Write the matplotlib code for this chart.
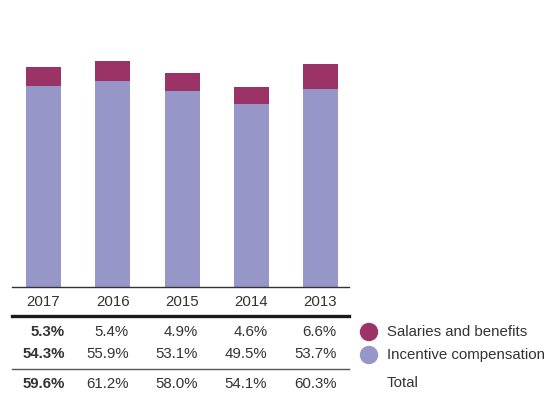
import matplotlib
matplotlib.use("Agg")
import matplotlib.pyplot as plt
from matplotlib.lines import Line2D
from matplotlib.patches import Ellipse
import matplotlib.transforms as mtransforms

years = ["2017", "2016", "2015", "2014", "2013"]
salaries = [5.3, 5.4, 4.9, 4.6, 6.6]
incentive = [54.3, 55.9, 53.1, 49.5, 53.7]
totals = [59.6, 61.2, 58.0, 54.1, 60.3]
legend_labels = ["Salaries and benefits", "Incentive compensation", "Total"]

C_SAL = "#9C3366"
C_INC = "#9696C8"
TXT = "#333333"

plt.rcParams['font.family'] = ['Liberation Sans', 'DejaVu Sans']

W, H = 548, 393
fig = plt.figure(figsize=(W / 100, H / 100), dpi=100)

def fx(px):
    return px / W

def fy(py):
    return 1 - py / H

ax = fig.add_axes([fx(12), fy(287), fx(349) - fx(12), fy(0) - fy(287)])
x = list(range(len(years)))
ax.bar(x, incentive, width=0.505, color=C_INC, zorder=2)
ax.bar(x, salaries, bottom=incentive, width=0.505, color=C_SAL, zorder=2)
ax.set_xlim(-0.455, 4.41)
ax.set_ylim(0, 77.7)
for s in ["top", "right", "left"]:
    ax.spines[s].set_visible(False)
ax.spines["bottom"].set_color("#333333")
ax.spines["bottom"].set_linewidth(1.0)
ax.set_xticks([])
ax.set_yticks([])

# table lines
fig.add_artist(Line2D([fx(12), fx(349)], [fy(316), fy(316)], color="#1a1a1a", lw=2.4))
fig.add_artist(Line2D([fx(12), fx(349)], [fy(369), fy(369)], color="#555555", lw=1.0))

trans = mtransforms.blended_transform_factory(ax.transData, fig.transFigure)
fs = 10.8
for i, yr in enumerate(years):
    off = 0.24
    ax.text(i + off, fy(302), yr, transform=trans, ha="right", va="center",
            fontsize=fs, color=TXT)
    voff = 0.31 if i == 0 else 0.23
    fw = "bold" if i == 0 else "normal"
    ax.text(i + voff, fy(332), f"{salaries[i]:.1f}%", transform=trans, ha="right",
            va="center", fontsize=fs, color=TXT, fontweight=fw)
    ax.text(i + voff, fy(354), f"{incentive[i]:.1f}%", transform=trans, ha="right",
            va="center", fontsize=fs, color=TXT, fontweight=fw)
    ax.text(i + voff, fy(384), f"{totals[i]:.1f}%", transform=trans, ha="right",
            va="center", fontsize=fs, color=TXT, fontweight=fw)

# legend
for py, col in [(332, C_SAL), (355, C_INC)]:
    fig.add_artist(Ellipse((fx(369), fy(py)), width=17 / W, height=17 / H,
                           color=col, transform=fig.transFigure))
for py, lab in zip([332, 355, 383], legend_labels):
    fig.text(fx(387), fy(py), lab, ha="left", va="center", fontsize=fs, color=TXT)

fig.savefig("out.png", dpi=100)
